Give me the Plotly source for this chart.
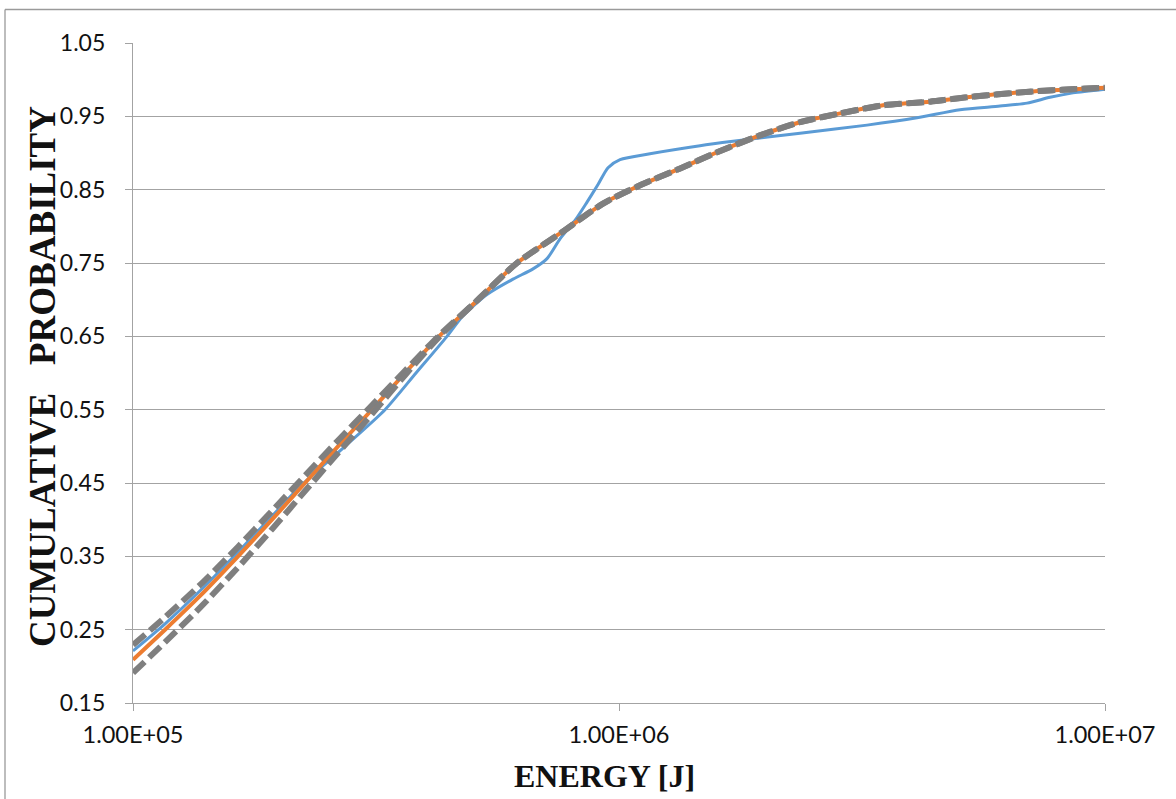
import plotly.graph_objects as go

# ---------------- data ----------------
energy_fit = [1.000e5, 1.164e5, 1.374e5, 1.645e5, 1.932e5, 2.259e5, 2.641e5, 3.102e5,
              3.628e5, 4.263e5, 5.127e5, 6.168e5, 7.670e5, 9.271e5, 1.105e6, 1.336e6,
              1.591e6, 1.950e6, 2.358e6, 2.850e6, 3.494e6, 4.364e6, 5.201e6, 7.111e6, 1.000e7]
prob_fit = [0.209, 0.250, 0.296, 0.350, 0.400, 0.450, 0.500, 0.550,
            0.600, 0.650, 0.700, 0.750, 0.793, 0.831, 0.856, 0.879,
            0.901, 0.924, 0.942, 0.954, 0.965, 0.970, 0.976, 0.984, 0.989]
prob_upper = [0.229, 0.267, 0.311, 0.363, 0.412, 0.460, 0.508, 0.556,
              0.603, 0.651, 0.700, 0.750, 0.793, 0.831, 0.856, 0.879,
              0.901, 0.924, 0.942, 0.954, 0.965, 0.970, 0.976, 0.984, 0.989]
prob_lower = [0.191, 0.233, 0.280, 0.335, 0.387, 0.439, 0.491, 0.544,
              0.597, 0.649, 0.700, 0.750, 0.793, 0.831, 0.856, 0.879,
              0.901, 0.924, 0.942, 0.954, 0.965, 0.970, 0.976, 0.984, 0.989]

energy_emp = [1.000e5, 1.164e5, 1.374e5, 1.645e5, 1.914e5, 2.207e5, 2.730e5, 3.300e5,
              3.822e5, 4.427e5, 4.776e5, 5.350e5, 6.052e5, 6.654e5, 7.111e5, 7.562e5,
              8.119e5, 8.595e5, 9.054e5, 9.494e5, 1.005e6, 1.158e6, 1.468e6, 1.716e6,
              2.358e6, 3.238e6, 4.104e6, 5.031e6, 6.081e6, 6.911e6, 7.706e6, 8.595e6, 1.000e7]
prob_emp = [0.221, 0.258, 0.303, 0.356, 0.402, 0.445, 0.500, 0.550,
            0.600, 0.650, 0.678, 0.707, 0.728, 0.742, 0.756, 0.783,
            0.808, 0.833, 0.857, 0.880, 0.891, 0.899, 0.910, 0.916,
            0.927, 0.938, 0.948, 0.959, 0.964, 0.968, 0.976, 0.982, 0.987]

x_tick_vals = [1e5, 1e6, 1e7]
x_tick_text = ["1.00E+05", "1.00E+06", "1.00E+07"]
y_tick_vals = [0.15, 0.25, 0.35, 0.45, 0.55, 0.65, 0.75, 0.85, 0.95, 1.05]
y_tick_text = ["0.15", "0.25", "0.35", "0.45", "0.55", "0.65", "0.75", "0.85", "0.95", "1.05"]

x_title = "ENERGY [J]"
y_title = "CUMULATIVE   PROBABILITY"

# ---------------- figure ----------------
BLUE = "#5B9BD5"
ORANGE = "#ED7D31"
GREY = "#7F7F7F"
GRID = "#A3A3A3"

fig = go.Figure()
fig.add_trace(go.Scatter(x=energy_emp, y=prob_emp, mode="lines",
                         line=dict(color=BLUE, width=3, shape="spline", smoothing=0.7),
                         hoverinfo="skip", showlegend=False))
fig.add_trace(go.Scatter(x=energy_fit, y=prob_fit, mode="lines",
                         line=dict(color=ORANGE, width=4, shape="spline", smoothing=0.7),
                         hoverinfo="skip", showlegend=False))
for pu in (prob_upper, prob_lower):
    fig.add_trace(go.Scatter(x=energy_fit, y=pu, mode="lines",
                             line=dict(color=GREY, width=6, dash="16px,6px",
                                       shape="spline", smoothing=0.7),
                             hoverinfo="skip", showlegend=False))

L, R, T, B = 133, 71, 43, 96
W, H = 1176, 799
pw, ph = W - L - R, H - T - B

def px_to_paper_x(px):
    return (px - L) / pw

def py_to_paper_y(py):
    return (H - B - py) / ph

SERIF = "Liberation Serif, 'Times New Roman', serif"

fig.update_layout(
    width=W, height=H,
    margin=dict(l=L, r=R, t=T, b=B, autoexpand=False),
    paper_bgcolor="white", plot_bgcolor="white",
    font=dict(family="Lato, 'Open Sans', sans-serif", size=23, color="#111111"),
    xaxis=dict(type="log", range=[5, 7], tickvals=x_tick_vals, ticktext=x_tick_text,
               showgrid=False, zeroline=False, showline=True, linecolor=GRID, linewidth=1.3,
               ticks="outside", ticklen=7, tickcolor=GRID, tickwidth=1.3,
               ticklabelstandoff=4, tickfont=dict(size=23.5)),
    yaxis=dict(range=[0.15, 1.05], tickvals=y_tick_vals, ticktext=y_tick_text,
               showgrid=True, gridcolor=GRID, gridwidth=1.3, zeroline=False,
               showline=True, linecolor=GRID, linewidth=1.3,
               ticks="outside", ticklen=7, tickcolor=GRID, tickwidth=1.3,
               ticklabelstandoff=15, tickfont=dict(size=23)),
    annotations=[
        dict(text=f"<b>{x_title}</b>", xref="paper", yref="paper",
             x=px_to_paper_x(604), y=py_to_paper_y(776), xanchor="center", yanchor="middle",
             showarrow=False, font=dict(family=SERIF, size=32, color="#111111")),
        dict(text=f"<b>{y_title}</b>", xref="paper", yref="paper",
             x=px_to_paper_x(42), y=py_to_paper_y(377), xanchor="center", yanchor="middle",
             textangle=-90, showarrow=False,
             font=dict(family=SERIF, size=37, color="#111111")),
    ],
    shapes=[
        dict(type="line", xref="paper", yref="paper", layer="below",
             x0=px_to_paper_x(5), x1=px_to_paper_x(1180), y0=py_to_paper_y(9.5), y1=py_to_paper_y(9.5),
             line=dict(color="#9A9A9A", width=1.3)),
        dict(type="line", xref="paper", yref="paper", layer="below",
             x0=px_to_paper_x(5), x1=px_to_paper_x(5), y0=py_to_paper_y(9.5), y1=py_to_paper_y(805),
             line=dict(color="#9A9A9A", width=1.3)),
    ],
)

fig.write_html("out.html", post_script="document.body.style.margin='0';",
               config={"displayModeBar": False})
